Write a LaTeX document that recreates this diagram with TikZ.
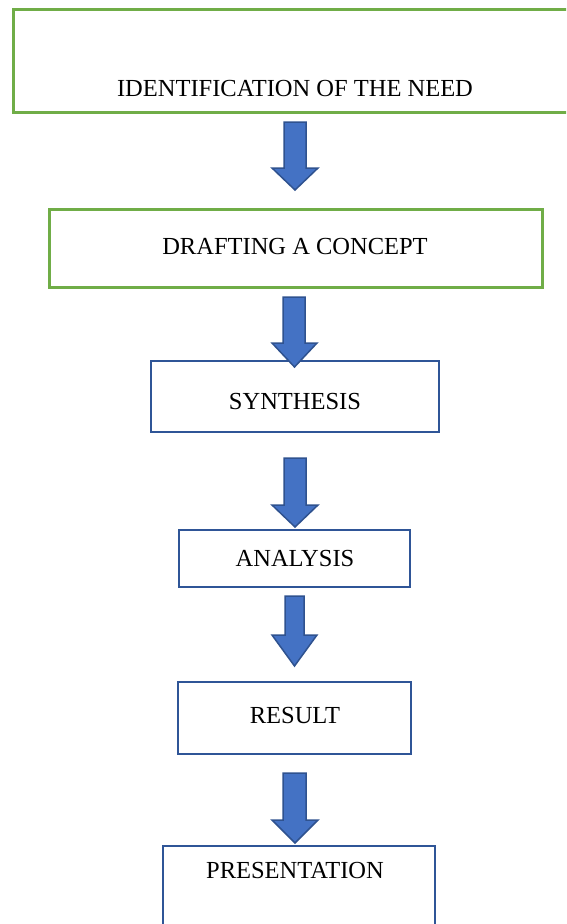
\documentclass[tikz,border=0pt]{standalone}
\usepackage{fontspec}
\setmainfont{Liberation Serif}
\definecolor{boxgreen}{HTML}{70AD47}
\definecolor{boxblue}{HTML}{2F5597}
\definecolor{arrowfill}{HTML}{4472C4}
\definecolor{arrowline}{HTML}{2F528F}
\tikzset{
  greenbox/.style={draw=boxgreen, line width=3pt},
  bluebox/.style={draw=boxblue, line width=2.6pt},
  label/.style={font=\fontsize{24.5}{28}\selectfont, inner sep=0pt, text=black},
  blockarrow/.style={fill=arrowfill, draw=arrowline, line width=1.5pt, line join=miter}
}
\begin{document}
\begin{tikzpicture}[x=1pt,y=-1pt]
\useasboundingbox (0,0) rectangle (566,924);
\clip (0,0) rectangle (566,924);
\fill[white] (0,0) rectangle (566,924);
% boxes
\draw[greenbox] (13,9) rectangle (590,112);
\node[label] (t1) at (295,89) {IDENTIFICATION OF THE NEED};
\draw[greenbox] (49,209) rectangle (542,287);
\node[label] (t2) at (295,247) {DRAFTING A CONCEPT};
\draw[bluebox] (151,361) rectangle (439,432);
\node[label] (t3) at (295,402) {SYNTHESIS};
\draw[bluebox] (179,530) rectangle (410,587);
\node[label] (t4) at (295,559) {ANALYSIS};
\draw[bluebox] (178,682) rectangle (411,754);
\node[label] (t5) at (295,715) {RESULT};
\draw[bluebox] (163,846) rectangle (435,950);
\node[label] (t6) at (295,870) {PRESENTATION};
% block arrows
\draw[blockarrow] (284,122) -- (306,122) -- (306,168) -- (318,168) -- (295,190) -- (272,168) -- (284,168) -- cycle;
\draw[blockarrow] (283,297) -- (305,297) -- (305,343) -- (317,343) -- (294.5,367) -- (272,343) -- (283,343) -- cycle;
\draw[blockarrow] (284,458) -- (306,458) -- (306,505) -- (318,505) -- (295,527) -- (272,505) -- (284,505) -- cycle;
\draw[blockarrow] (285,596) -- (304,596) -- (304,635) -- (317,635) -- (294.5,666) -- (272,635) -- (285,635) -- cycle;
\draw[blockarrow] (283,773) -- (306,773) -- (306,820) -- (318,820) -- (295,843) -- (272,820) -- (283,820) -- cycle;
\end{tikzpicture}
\end{document}
